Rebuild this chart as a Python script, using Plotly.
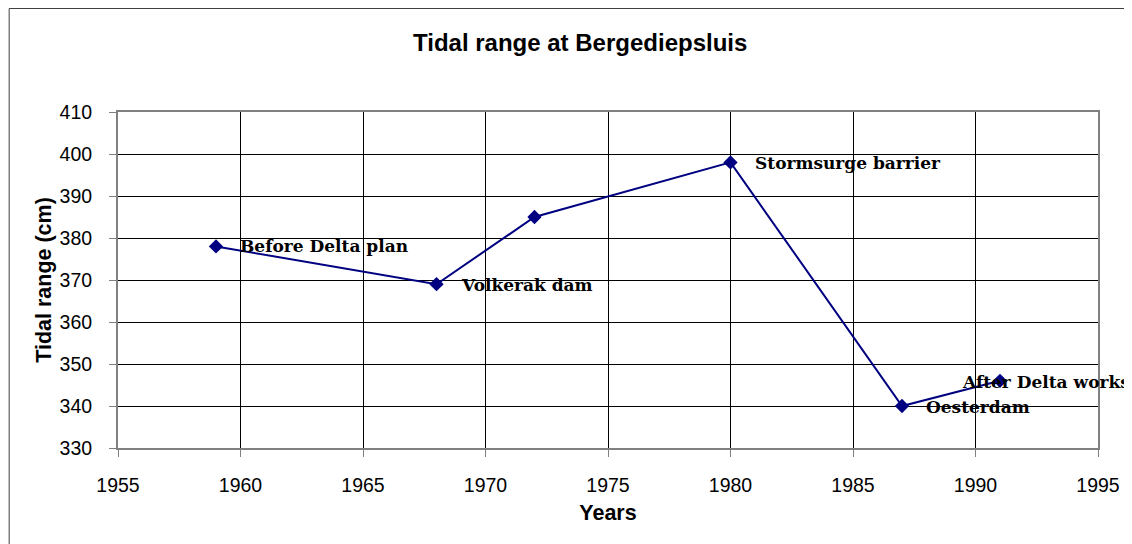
import plotly.graph_objects as go

years = [1959, 1968, 1972, 1980, 1987, 1991]
tidal_range = [378, 369, 385, 398, 340, 346]
labels = ["Before Delta plan", "Volkerak dam", "", "Stormsurge barrier", "Oesterdam", "After Delta works"]
label_shift = [22, 22, 0, 22, 22, -40]
label_yshift = [0, -1, 0, -1, -1, -1]

# the page adds an 8px body margin; the figure is sized to fill the rest
W, H = 1124, 536
L, R, T, B = 110, 28, 104, 96
pw, ph = W - L - R, H - T - B

def px_x(p):
    return (p - L) / pw

def px_y(p):
    return (H - B - p) / ph

fig = go.Figure()
fig.add_trace(go.Scatter(
    x=years, y=tidal_range, mode="lines+markers",
    line=dict(color="#000080", width=2),
    marker=dict(symbol="diamond", size=11, color="#000080"),
    hoverinfo="x+y", showlegend=False,
))

for xv, yv, lab, xs, ys in zip(years, tidal_range, labels, label_shift, label_yshift):
    if lab:
        fig.add_annotation(x=xv, y=yv, xref="x", yref="y", text=lab, showarrow=False,
                           xanchor="left", yanchor="middle", xshift=xs, yshift=ys,
                           font=dict(family="DejaVu Serif", size=17, color="#000000", weight="bold"))

# outer chart border (extends beyond the right and bottom edges)
fig.add_shape(type="rect", xref="paper", yref="paper",
              x0=px_x(0.5), x1=px_x(W + 30), y0=px_y(H + 30), y1=px_y(0.5),
              line=dict(color="#404040", width=1), layer="below")

fig.add_annotation(text="<b>Tidal range at Bergediepsluis</b>", xref="paper", yref="paper",
                   x=px_x(575), y=px_y(34), showarrow=False,
                   xanchor="center", yanchor="middle",
                   font=dict(family="Liberation Sans, Arial", size=24, color="#000000"))

fig.update_layout(
    width=W, height=H,
    margin=dict(l=L, r=R, t=T, b=B),
    paper_bgcolor="white", plot_bgcolor="white",
    font=dict(family="Liberation Sans, Arial", size=19.5, color="#000000"),
    xaxis=dict(
        range=[1955, 1995], dtick=5, tick0=1955,
        showgrid=True, gridcolor="#000000", gridwidth=1,
        showline=True, linecolor="#808080", linewidth=2, mirror=True,
        ticks="outside", ticklen=7, tickcolor="#808080",
        tickfont=dict(size=19.5), ticklabelstandoff=12,
        zeroline=False,
        title=dict(text="<b>Years</b>", font=dict(size=21.5), standoff=10),
    ),
    yaxis=dict(
        range=[330, 410], dtick=10,
        showgrid=True, gridcolor="#000000", gridwidth=1,
        showline=True, linecolor="#808080", linewidth=2, mirror=True,
        ticks="outside", ticklen=7, tickcolor="#808080",
        tickfont=dict(size=19.5), ticklabelstandoff=13,
        zeroline=False,
        title=dict(text="<b>Tidal range (cm)</b>", font=dict(size=21.5), standoff=2),
    ),
)

fig.write_html("out.html")
